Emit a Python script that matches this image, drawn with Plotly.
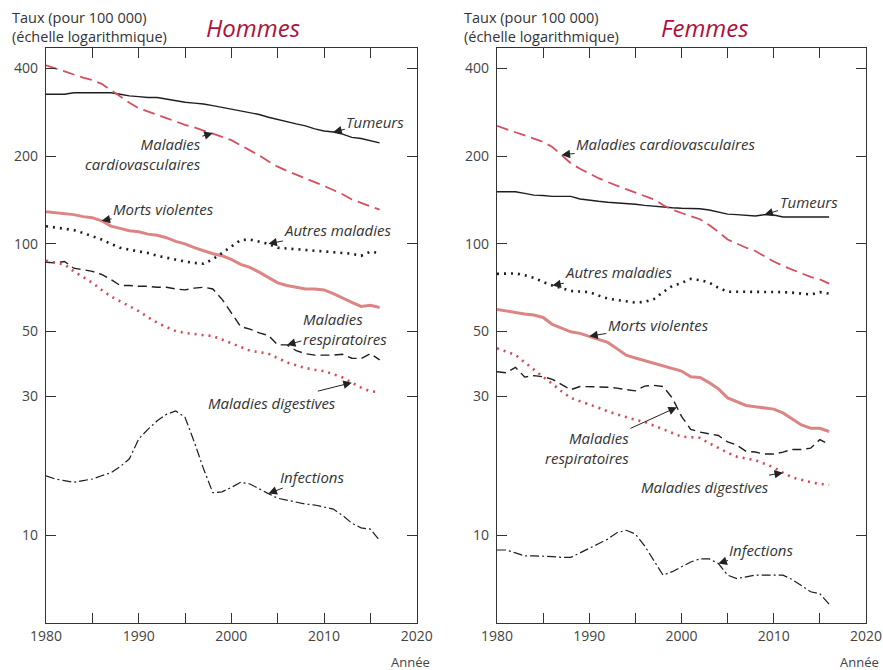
import math
import plotly.graph_objects as go
from plotly.subplots import make_subplots

years = list(range(1980, 2017))

# Hommes
h_tumeurs = [326, 326, 326, 330, 330, 330, 330, 330, 326, 322, 320, 318, 318, 314, 310, 306,
             304, 302, 298, 294, 290, 286, 282, 278, 272, 267, 262, 258, 254, 248, 244, 242,
             238, 232, 230, 226, 222]
h_cardio = [410, 400, 390, 380, 372, 365, 354, 337, 320, 305, 292, 284, 277, 270, 263, 256,
            251, 245, 240, 233, 227, 218, 210, 201, 192, 184, 178, 173, 168, 163, 158, 153,
            148, 142, 138, 134, 131]
h_violentes = [129, 128, 127, 126, 124, 123, 120, 115, 113, 111, 110, 108, 107, 105, 102, 100,
               97, 94.5, 92.5, 91, 88.5, 85, 83, 80, 76.5, 73.5, 72, 71, 70, 70, 69.5, 67.5,
               65, 63, 61, 61.5, 60.5]
h_autres = [115, 114, 113, 111.5, 109, 106, 103.5, 100, 97, 95.5, 94.5, 93, 91, 89.5, 88, 87,
            86, 85.5, 88.5, 93, 98, 103, 103.5, 102, 100, 97, 96.5, 96, 95.5, 95, 94.5, 94,
            93.5, 92.5, 91, 94, 93]
h_respi = [86.5, 86, 87, 82.5, 81.5, 80.5, 78.5, 75.5, 72, 72, 71.5, 71.5, 71, 71, 70, 69.5,
           70.5, 71, 70, 64.5, 58, 52, 51, 49.5, 48.5, 45, 45, 43, 42, 41.5, 41.5, 41.5, 41.8,
           40.5, 40.4, 42, 40]
h_digestives = [87.5, 86, 85, 80.5, 77, 73.5, 69.5, 66, 63.5, 61, 58.8, 56, 53.6, 51.8, 50.2,
                49.5, 48.9, 48.6, 48.3, 47, 45.8, 44.3, 43, 42.5, 42, 40.5, 39.2, 38.3, 37.5,
                37, 36.6, 35.7, 34.8, 33.4, 32.1, 31.2, 31]
h_infections = [16.0, 15.6, 15.4, 15.2, 15.4, 15.6, 16.0, 16.4, 17.2, 18.3, 21.4, 23.1, 24.7,
                26.0, 26.7, 25.4, 20.9, 16.9, 14.0, 14.1, 14.6, 15.2, 15.0, 14.4, 13.9, 13.4,
                13.2, 13.0, 12.8, 12.7, 12.5, 12.3, 11.7, 11.0, 10.6, 10.5, 9.6]

# Femmes
f_tumeurs = [151, 151, 151, 149, 147, 146.5, 145.5, 145.5, 145.5, 142.5, 141, 140, 139, 138.5,
             137.5, 136.8, 135.5, 134.5, 134, 133, 132.5, 132.2, 132, 130.7, 128.6, 126.5, 126,
             125.6, 124.6, 126, 125.6, 123.7, 123.7, 123.7, 123.7, 123.7, 123.7]
f_cardio = [254, 248, 242, 236, 230, 224, 215, 202, 189, 181, 174, 168, 163, 158, 154, 150,
            146, 142, 136, 131, 127.6, 124.5, 121.5, 116, 110, 103.5, 100, 97, 94.5, 90.5, 87,
            84, 81.5, 79.1, 77, 75.5, 73]
f_autres = [78.9, 79, 79.2, 78, 76.5, 74, 72, 70.5, 68.9, 68.6, 68.3, 66.5, 64.9, 64.2, 63.5,
            62.9, 63.2, 64.6, 68.3, 71.7, 73.4, 75.8, 75.1, 73.6, 70.7, 68.5, 68.5, 68.5, 68.5,
            68.5, 68.5, 68.3, 68, 67.5, 67, 68.3, 67.5]
f_violentes = [59.6, 58.8, 58.0, 57.5, 57, 55.9, 52.9, 51.3, 49.9, 49.3, 48.2, 47, 45.9, 43.7,
               41.5, 40.6, 39.8, 39, 38.3, 37.4, 36.6, 35.0, 34.8, 33.4, 31.8, 29.6, 28.8,
               27.9, 27.6, 27.3, 27.1, 26.3, 25.0, 23.9, 23.3, 23.3, 22.7]
f_respi = [36.4, 36.1, 37.7, 34.9, 35.3, 35.0, 34.3, 32.9, 31.6, 32.4, 32.4, 32.3, 32.2, 32.0,
           31.6, 31.3, 32.5, 32.7, 32.4, 29.6, 25.6, 23.1, 22.6, 22.3, 22.0, 20.9, 20.4, 19.4,
           19.3, 19.0, 19.0, 19.3, 19.7, 19.7, 19.9, 21.3, 20.5]
f_digestives = [43.8, 42.6, 41.6, 39.2, 37.0, 34.9, 32.9, 31.2, 29.6, 28.9, 28.2, 27.4, 26.6,
                26.0, 25.4, 24.9, 24.5, 23.8, 23.1, 22.4, 21.8, 21.7, 21.6, 20.7, 19.9, 19.2,
                18.6, 18.3, 18.1, 17.6, 17.1, 16.4, 15.8, 15.5, 15.2, 15.0, 14.9]
f_infections = [8.9, 8.9, 8.7, 8.5, 8.5, 8.5, 8.45, 8.4, 8.4, 8.7, 9.0, 9.35, 9.7, 10.2, 10.4,
                10.1, 9.2, 8.2, 7.3, 7.5, 7.8, 8.1, 8.3, 8.3, 8.0, 7.3, 7.1, 7.2, 7.3, 7.3, 7.3,
                7.3, 7.05, 6.7, 6.4, 6.3, 5.8]

x_tickvals = list(range(1980, 2021, 5))
x_ticktext = [str(v) if v % 10 == 0 else "" for v in x_tickvals]
y_tickvals = [10, 30, 50, 100, 200, 400]

# style de chaque série
styles = {
    "tumeurs": dict(color="#1e1e1e", width=1.4, dash="solid"),
    "cardio": dict(color="#d4505c", width=1.8, dash="12px,6px"),
    "violentes": dict(color="#dc8585", width=3, dash="solid"),
    "autres": dict(color="#1e1e1e", width=2.6, dash="2px,5px"),
    "respi": dict(color="#1e1e1e", width=1.4, dash="9px,5px"),
    "digestives": dict(color="#d64a56", width=2.6, dash="2px,5px"),
    "infections": dict(color="#1e1e1e", width=1.2, dash="9px,3px,2px,3px"),
}

series = {
    1: dict(tumeurs=h_tumeurs, cardio=h_cardio, violentes=h_violentes, autres=h_autres,
            respi=h_respi, digestives=h_digestives, infections=h_infections),
    2: dict(tumeurs=f_tumeurs, cardio=f_cardio, violentes=f_violentes, autres=f_autres,
            respi=f_respi, digestives=f_digestives, infections=f_infections),
}

fig = make_subplots(rows=1, cols=2)

for col, data in series.items():
    for key, vals in data.items():
        fig.add_trace(
            go.Scatter(x=years, y=vals, mode="lines", line=styles[key],
                       showlegend=False, hoverinfo="skip"),
            row=1, col=col,
        )

W, H = 883, 670


def px(x):
    return x / W


def py(y):
    return 1 - y / H


domains = {1: (46, 416.7), 2: (497, 866)}
for col, (x0, x1) in domains.items():
    fig.update_xaxes(
        domain=[px(x0), px(x1)], range=[1980, 2020], tickvals=x_tickvals, ticktext=x_ticktext,
        showgrid=False, zeroline=False, showline=True, linecolor="#333", linewidth=1.2,
        mirror="ticks", ticks="inside", ticklen=10, tickcolor="#333", tickwidth=1,
        tickfont=dict(size=14, color="#444"), automargin=False,
        row=1, col=col,
    )
    fig.update_yaxes(
        type="log", domain=[py(623), py(48)], range=[math.log10(5), math.log10(470)],
        tickvals=y_tickvals, ticktext=[str(v) for v in y_tickvals],
        showgrid=False, zeroline=False, showline=True, linecolor="#333", linewidth=1.2,
        mirror="ticks", ticks="inside", ticklen=10, tickcolor="#333", tickwidth=1,
        tickfont=dict(size=14, color="#444"), ticklabelstandoff=4, automargin=False,
        row=1, col=col,
    )

label_font = dict(family="Open Sans", size=15, color="#333")


def label(text, col, year, value, ax, ay, align="center"):
    xr = "x" if col == 1 else "x2"
    yr = "y" if col == 1 else "y2"
    fig.add_annotation(
        x=year, y=math.log10(value), xref=xr, yref=yr, text="<i>" + text + "</i>",
        showarrow=True, arrowhead=2, arrowsize=1.7, arrowwidth=1, arrowcolor="#222",
        ax=ax, ay=ay, align=align, font=label_font, standoff=0,
    )


def val(col, key, year):
    return series[col][key][years.index(year)]


# étiquettes Hommes
label("Tumeurs", 1, 2011, val(1, "tumeurs", 2011), 42, -10)
label("Maladies<br>cardiovasculaires", 1, 1998, val(1, "cardio", 1998), -70, 21, "right")
label("Morts violentes", 1, 1986, val(1, "violentes", 1986), 62, -12)
label("Autres maladies", 1, 2004, val(1, "autres", 2004), 70, -14)
label("Maladies<br>respiratoires", 1, 2006, val(1, "respi", 2006), 58, -16, "left")
label("Maladies digestives", 1, 2013, val(1, "digestives", 2013), -80, 20)
label("Infections", 1, 2004, val(1, "infections", 2004), 44, -17)

# étiquettes Femmes
label("Maladies cardiovasculaires", 2, 1987, val(2, "cardio", 1987), 104, -11)
label("Tumeurs", 2, 2009, val(2, "tumeurs", 2009), 44, -13)
label("Autres maladies", 2, 1986, val(2, "autres", 1986), 67, -13)
label("Morts violentes", 2, 1990, val(2, "violentes", 1990), 69, -11)
label("Maladies<br>respiratoires", 2, 1999.5, 27.5, -90, 41, "right")
label("Maladies digestives", 2, 2011, val(2, "digestives", 2011), -78, 14)
label("Infections", 2, 2004, val(2, "infections", 2004), 43, -14)

# titres et libellés d'axes
for cx, title in [(253, "Hommes"), (705, "Femmes")]:
    fig.add_annotation(x=px(cx), y=py(28), xref="paper", yref="paper", showarrow=False,
                       xanchor="center", yanchor="middle", text="<i>" + title + "</i>",
                       font=dict(family="Open Sans", size=24, color="#b0103a"))
for lx in [10, 462]:
    fig.add_annotation(x=px(lx), y=py(27), xref="paper", yref="paper",
                       showarrow=False, xanchor="left", yanchor="middle", align="left",
                       text="Taux (pour 100 000)<br>(échelle logarithmique)",
                       font=dict(family="Open Sans", size=14.5, color="#333"))
for ax_x in [410, 859]:
    fig.add_annotation(x=px(ax_x), y=py(662), xref="paper", yref="paper", showarrow=False,
                       xanchor="center", yanchor="middle",
                       text="Année", font=dict(family="Open Sans", size=13, color="#444"))

fig.update_layout(
    width=W, height=H, margin=dict(l=0, r=0, t=0, b=0),
    paper_bgcolor="white", plot_bgcolor="white",
    font=dict(family="Open Sans", color="#444"),
)

# pas de marge autour de la figure dans la page, pas de barre d'outils
fig.write_html("out.html", config={"displayModeBar": False},
               post_script="document.body.style.margin='0';document.body.style.overflow='hidden';")
